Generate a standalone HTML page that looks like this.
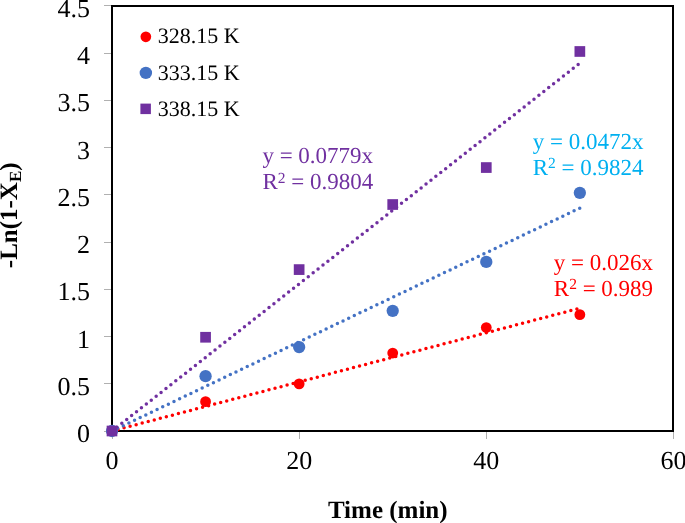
<!DOCTYPE html><html><head><meta charset="utf-8"><style>html,body{margin:0;padding:0;background:#fff;width:685px;height:523px;overflow:hidden}svg{display:block;will-change:transform;text-rendering:geometricPrecision}</style></head><body>
<svg width="685" height="523" viewBox="0 0 685 523">
<rect x="0" y="0" width="685" height="523" fill="#fff"/>
<line x1="104" y1="431.50" x2="112" y2="431.50" stroke="#B0B0B0" stroke-width="1"/>
<line x1="104" y1="383.50" x2="112" y2="383.50" stroke="#B0B0B0" stroke-width="1"/>
<line x1="104" y1="336.50" x2="112" y2="336.50" stroke="#B0B0B0" stroke-width="1"/>
<line x1="104" y1="289.50" x2="112" y2="289.50" stroke="#B0B0B0" stroke-width="1"/>
<line x1="104" y1="242.50" x2="112" y2="242.50" stroke="#B0B0B0" stroke-width="1"/>
<line x1="104" y1="194.50" x2="112" y2="194.50" stroke="#B0B0B0" stroke-width="1"/>
<line x1="104" y1="147.50" x2="112" y2="147.50" stroke="#B0B0B0" stroke-width="1"/>
<line x1="104" y1="100.50" x2="112" y2="100.50" stroke="#B0B0B0" stroke-width="1"/>
<line x1="104" y1="53.50" x2="112" y2="53.50" stroke="#B0B0B0" stroke-width="1"/>
<line x1="104" y1="5.50" x2="112" y2="5.50" stroke="#B0B0B0" stroke-width="1"/>
<line x1="112.50" y1="431" x2="112.50" y2="439" stroke="#B0B0B0" stroke-width="1"/>
<line x1="299.50" y1="431" x2="299.50" y2="439" stroke="#B0B0B0" stroke-width="1"/>
<line x1="486.50" y1="431" x2="486.50" y2="439" stroke="#B0B0B0" stroke-width="1"/>
<line x1="673.50" y1="431" x2="673.50" y2="439" stroke="#B0B0B0" stroke-width="1"/>
<rect x="112.0" y="6.0" width="561.0" height="425.0" fill="none" stroke="#000" stroke-width="2"/>
<text x="90" y="442.00" font-family="Liberation Serif, serif" font-size="26" text-anchor="end" fill="#000">0</text>
<text x="90" y="394.78" font-family="Liberation Serif, serif" font-size="26" text-anchor="end" fill="#000">0.5</text>
<text x="90" y="347.56" font-family="Liberation Serif, serif" font-size="26" text-anchor="end" fill="#000">1</text>
<text x="90" y="300.33" font-family="Liberation Serif, serif" font-size="26" text-anchor="end" fill="#000">1.5</text>
<text x="90" y="253.11" font-family="Liberation Serif, serif" font-size="26" text-anchor="end" fill="#000">2</text>
<text x="90" y="205.89" font-family="Liberation Serif, serif" font-size="26" text-anchor="end" fill="#000">2.5</text>
<text x="90" y="158.67" font-family="Liberation Serif, serif" font-size="26" text-anchor="end" fill="#000">3</text>
<text x="90" y="111.44" font-family="Liberation Serif, serif" font-size="26" text-anchor="end" fill="#000">3.5</text>
<text x="90" y="64.22" font-family="Liberation Serif, serif" font-size="26" text-anchor="end" fill="#000">4</text>
<text x="90" y="17.00" font-family="Liberation Serif, serif" font-size="26" text-anchor="end" fill="#000">4.5</text>
<text x="112.00" y="469" font-family="Liberation Serif, serif" font-size="26" text-anchor="middle" fill="#000">0</text>
<text x="299.14" y="469" font-family="Liberation Serif, serif" font-size="26" text-anchor="middle" fill="#000">20</text>
<text x="486.28" y="469" font-family="Liberation Serif, serif" font-size="26" text-anchor="middle" fill="#000">40</text>
<text x="673.42" y="469" font-family="Liberation Serif, serif" font-size="26" text-anchor="middle" fill="#000">60</text>
<text x="327.9" y="517.5" font-family="Liberation Serif, serif" font-size="25" font-weight="bold" fill="#000">Time (min)</text>
<text transform="translate(17,268.2) rotate(-90)" font-family="Liberation Serif, serif" font-size="25" font-weight="bold" fill="#000">-Ln(1-X<tspan font-size="17" dy="4">E</tspan><tspan dy="-4">)</tspan></text>
<line x1="112.00" y1="431.00" x2="579.85" y2="308.22" stroke="#FF0000" stroke-width="3.5" stroke-linecap="round" stroke-dasharray="0 6.242"/>
<line x1="112.00" y1="431.00" x2="579.85" y2="208.11" stroke="#4472C4" stroke-width="3.5" stroke-linecap="round" stroke-dasharray="0 6.242"/>
<line x1="112.00" y1="431.00" x2="579.85" y2="63.14" stroke="#7030A0" stroke-width="3.5" stroke-linecap="round" stroke-dasharray="0 6.242"/>
<circle cx="112.00" cy="431.00" r="5.4" fill="#FF0000"/>
<circle cx="205.57" cy="401.63" r="5.4" fill="#FF0000"/>
<circle cx="299.14" cy="383.90" r="5.4" fill="#FF0000"/>
<circle cx="392.71" cy="353.05" r="5.4" fill="#FF0000"/>
<circle cx="486.28" cy="327.55" r="5.4" fill="#FF0000"/>
<circle cx="579.85" cy="314.69" r="5.4" fill="#FF0000"/>
<circle cx="112.00" cy="431.00" r="6.15" fill="#4472C4"/>
<circle cx="205.57" cy="376.22" r="6.15" fill="#4472C4"/>
<circle cx="299.14" cy="347.04" r="6.15" fill="#4472C4"/>
<circle cx="392.71" cy="310.83" r="6.15" fill="#4472C4"/>
<circle cx="486.28" cy="261.90" r="6.15" fill="#4472C4"/>
<circle cx="579.85" cy="192.83" r="6.15" fill="#4472C4"/>
<rect x="106.65" y="425.65" width="10.7" height="10.7" fill="#7030A0"/>
<rect x="200.22" y="331.91" width="10.7" height="10.7" fill="#7030A0"/>
<rect x="293.79" y="264.24" width="10.7" height="10.7" fill="#7030A0"/>
<rect x="387.36" y="199.17" width="10.7" height="10.7" fill="#7030A0"/>
<rect x="480.93" y="162.20" width="10.7" height="10.7" fill="#7030A0"/>
<rect x="574.50" y="46.13" width="10.7" height="10.7" fill="#7030A0"/>
<text x="262.4" y="163.3" font-family="Liberation Serif, serif" font-size="23" fill="#7030A0">y = 0.0779x</text><text x="262.4" y="189.3" font-family="Liberation Serif, serif" font-size="23" fill="#7030A0">R<tspan font-size="15.5" dy="-6.7">2</tspan><tspan dy="6.7"> = 0.9804</tspan></text>
<text x="532.7" y="148.8" font-family="Liberation Serif, serif" font-size="23" fill="#00B0F0">y = 0.0472x</text><text x="532.7" y="175.1" font-family="Liberation Serif, serif" font-size="23" fill="#00B0F0">R<tspan font-size="15.5" dy="-6.7">2</tspan><tspan dy="6.7"> = 0.9824</tspan></text>
<text x="553.8" y="269.7" font-family="Liberation Serif, serif" font-size="23" fill="#FF0000">y = 0.026x</text><text x="553.8" y="295.8" font-family="Liberation Serif, serif" font-size="23" fill="#FF0000">R<tspan font-size="15.5" dy="-6.7">2</tspan><tspan dy="6.7"> = 0.989</tspan></text>
<circle cx="145.85" cy="36.80" r="5.35" fill="#FF0000"/>
<circle cx="145.85" cy="72.90" r="6.2" fill="#4472C4"/>
<rect x="140.40" y="103.60" width="10.5" height="10.5" fill="#7030A0"/>
<text x="157.85" y="43.4" font-family="Liberation Serif, serif" font-size="22" fill="#000">328.15 K</text>
<text x="157.85" y="79.5" font-family="Liberation Serif, serif" font-size="22" fill="#000">333.15 K</text>
<text x="157.85" y="115.6" font-family="Liberation Serif, serif" font-size="22" fill="#000">338.15 K</text>
</svg></body></html>
